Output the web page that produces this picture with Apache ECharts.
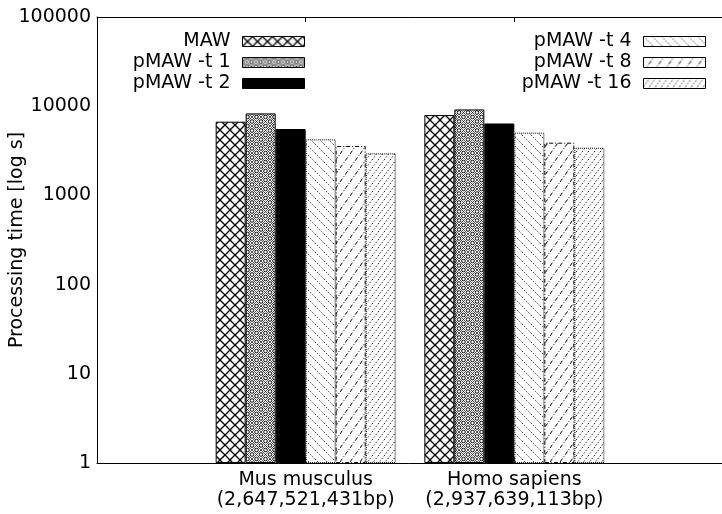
<!DOCTYPE html>
<html><head><meta charset="utf-8">
<script src="https://cdn.jsdelivr.net/npm/echarts@6/dist/echarts.min.js"></script>
<style>html,body{margin:0;padding:0;background:#fff}#c{width:722px;height:514px}</style>
</head><body><div id="c"></div>
<script>
// ---- data ----
const categories = ['', 'Mus musculus\n(2,647,521,431bp)', 'Homo sapiens\n(2,937,639,113bp)', ''];
const seriesNames = ['MAW', 'pMAW -t 1', 'pMAW -t 2', 'pMAW -t 4', 'pMAW -t 8', 'pMAW -t 16'];
const MAW = [6700, 7950];
const pMAW_t1 = [8300, 9200];
const pMAW_t2 = [5550, 6400];
const pMAW_t4 = [4250, 5050];
const pMAW_t8 = [3580, 3900];
const pMAW_t16 = [2960, 3420];
const majorTicks = [1, 10, 100, 1000, 10000, 100000];
const minorTicks = [2, 5, 8, 20, 50, 80, 200, 500, 800, 2000, 5000, 8000, 20000, 50000, 80000];
const seriesValues = [MAW, pMAW_t1, pMAW_t2, pMAW_t4, pMAW_t8, pMAW_t16];

// ---- fill patterns ----
function pattern(w, h, draw) {
  const c = document.createElement('canvas');
  c.width = w; c.height = h;
  const ctx = c.getContext('2d');
  ctx.fillStyle = '#fff'; ctx.fillRect(0, 0, w, h);
  ctx.strokeStyle = '#000'; ctx.fillStyle = '#000';
  draw(ctx, w, h);
  return { image: c, repeat: 'repeat' };
}
function line(ctx, x1, y1, x2, y2) { ctx.beginPath(); ctx.moveTo(x1, y1); ctx.lineTo(x2, y2); ctx.stroke(); }
const fills = [
  pattern(10, 10, (ctx, w, h) => { ctx.lineWidth = 1.3; line(ctx, -1, -1, w + 1, h + 1); line(ctx, w + 1, -1, -1, h + 1); }),
  pattern(9, 9, (ctx, w, h) => {
    ctx.strokeStyle = '#000'; ctx.lineWidth = 0.7;
    line(ctx, -1, -1, w + 1, h + 1); line(ctx, w + 1, -1, -1, h + 1);
    ctx.lineWidth = 1;
    [[4.5, 0], [0, 4.5], [9, 4.5], [4.5, 9]].forEach(p => { ctx.beginPath(); ctx.fillStyle = '#fff'; ctx.arc(p[0], p[1], 1.8, 0, Math.PI * 2); ctx.fill(); ctx.stroke(); });
  }),
  '#000',
  pattern(9, 9, (ctx, w, h) => { ctx.strokeStyle = '#444'; ctx.lineWidth = 1; ctx.setLineDash([1.5, 1.5]); line(ctx, 0, 0, w, h); }),
  pattern(10, 14, (ctx, w, h) => { ctx.lineWidth = 1; ctx.setLineDash([4, 2, 1, 2]); line(ctx, 0, h, w, 0); }),
  pattern(6, 8, (ctx, w, h) => { ctx.lineWidth = 1; ctx.setLineDash([1.2, 2]); line(ctx, 0, h, w, 0); })
];
const borders = ['solid', 'solid', 'solid', 'dotted', [4, 2, 1, 2], 'dotted'];

const FONT = 'DejaVu Sans';
const FS = 19;
const chart = echarts.init(document.getElementById('c'), null, { renderer: 'canvas' });
const series = seriesNames.map((n, i) => ({
  name: n, type: 'bar', xAxisIndex: 0, yAxisIndex: 0,
  barWidth: 30, barGap: '0%',
  data: categories.map((c, j) => (j === 0 || j === categories.length - 1) ? null : seriesValues[i][j - 1]),
  itemStyle: { color: fills[i], borderColor: '#000', borderWidth: 1, borderType: borders[i] }
}));
function legend(names, right) {
  return {
    data: names, orient: 'vertical', align: 'right', right: right, top: 32,
    itemWidth: 62, itemHeight: 10, itemGap: 2, padding: 0, icon: 'rect',
    itemStyle: { borderWidth: 1 },
    textStyle: { fontFamily: FONT, fontSize: FS, color: '#000', padding: [0, 7, 0, 0] }
  };
}
const ax = { lineStyle: { color: '#000', width: 1 } };
chart.setOption({
  animation: false,
  backgroundColor: '#fff',
  grid: { left: 97, right: -1, top: 17, bottom: 51, containLabel: false, outerBoundsMode: 'none' },
  legend: [legend(seriesNames.slice(0, 3), 417), legend(seriesNames.slice(3), 16)],
  xAxis: [
    { type: 'category', data: categories, boundaryGap: false, position: 'bottom',
      axisLine: Object.assign({ onZero: false }, ax),
      axisTick: { inside: true, length: 6, lineStyle: { color: '#000' } },
      axisLabel: { interval: 0, fontFamily: FONT, fontSize: FS, lineHeight: 20, color: '#000', margin: 7 } },
    { type: 'category', data: categories, boundaryGap: false, position: 'top',
      axisLine: Object.assign({ onZero: false }, ax),
      axisTick: { inside: true, length: 5, interval: 0, lineStyle: { color: '#000' } },
      axisLabel: { show: false } }
  ],
  yAxis: [
    { type: 'log', logBase: 10, min: 1, max: 100000, position: 'left',
      name: 'Processing time [log s]', nameLocation: 'middle', nameGap: 70, nameRotate: 90,
      nameMoveOverlap: false,
      nameTextStyle: { fontFamily: FONT, fontSize: FS, color: '#000' },
      axisLine: Object.assign({ show: true, onZero: false }, ax),
      axisTick: { inside: true, length: 6, lineStyle: { color: '#000' } },
      axisLabel: { fontFamily: FONT, fontSize: FS, color: '#000', margin: 6, formatter: v => String(v) },
      splitLine: { show: false } },
    { type: 'value', min: 0, max: 5, position: 'left',
      axisLine: { show: false }, axisLabel: { show: false }, splitLine: { show: false },
      axisTick: { inside: true, length: 3, customValues: minorTicks.map(v => Math.log10(v)), lineStyle: { color: '#000' } } },
    { type: 'value', min: 0, max: 5, position: 'right',
      axisLine: { show: false }, axisLabel: { show: false }, splitLine: { show: false },
      axisTick: { inside: true, length: 6, customValues: majorTicks.map(v => Math.log10(v)), lineStyle: { color: '#000' } } },
    { type: 'value', min: 0, max: 5, position: 'right',
      axisLine: { show: false }, axisLabel: { show: false }, splitLine: { show: false },
      axisTick: { inside: true, length: 3, customValues: minorTicks.map(v => Math.log10(v)), lineStyle: { color: '#000' } } }
  ],
  series: series
});
</script></body></html>
